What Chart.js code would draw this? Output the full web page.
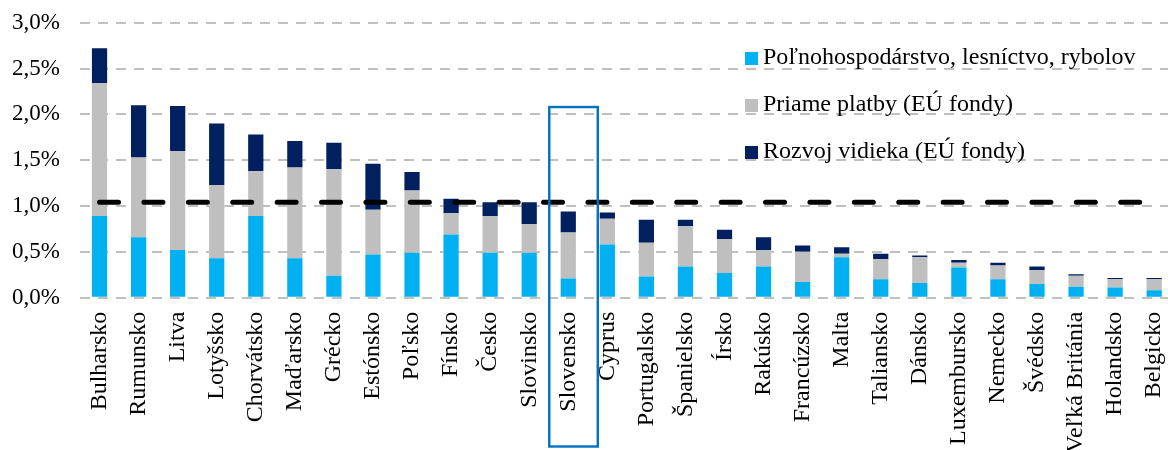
<!DOCTYPE html>
<html>
<head>
<meta charset="utf-8">
<script src="https://cdn.jsdelivr.net/npm/chart.js@4"></script>
<style>
  html, body { margin: 0; padding: 0; overflow: hidden; background: #fff; }
  #wrap { width: 1197px; height: 450px; }
</style>
</head>
<body>
<div id="wrap"><canvas id="agriChart"></canvas></div>
<script>
// Countries (sorted by total)
const countries = ['Bulharsko', 'Rumunsko', 'Litva', 'Lotyšsko', 'Chorvátsko', 'Maďarsko', 'Grécko', 'Estónsko',
    'Poľsko', 'Fínsko', 'Česko', 'Slovinsko', 'Slovensko', 'Cyprus', 'Portugalsko', 'Španielsko', 'Írsko',
    'Rakúsko', 'Francúzsko', 'Malta', 'Taliansko', 'Dánsko', 'Luxembursko', 'Nemecko', 'Švédsko',
    'Veľká Británia', 'Holandsko', 'Belgicko'];

// % of GDP
const agriForestFish = [0.89, 0.66, 0.52, 0.43, 0.89, 0.43, 0.24, 0.47, 0.49, 0.69, 0.49, 0.49, 0.21, 0.58,
    0.23, 0.34, 0.27, 0.34, 0.17, 0.44, 0.20, 0.16, 0.33, 0.20, 0.15, 0.12, 0.11, 0.08];
const directPayments = [1.45, 0.87, 1.08, 0.80, 0.49, 0.99, 1.16, 0.49, 0.68, 0.23, 0.40, 0.31, 0.50, 0.28,
    0.37, 0.44, 0.37, 0.18, 0.33, 0.04, 0.22, 0.28, 0.05, 0.15, 0.15, 0.12, 0.09, 0.12];
const ruralDevelopment = [0.38, 0.57, 0.49, 0.67, 0.40, 0.29, 0.29, 0.50, 0.20, 0.16, 0.15, 0.24, 0.23, 0.07,
    0.25, 0.07, 0.10, 0.14, 0.07, 0.07, 0.06, 0.02, 0.03, 0.03, 0.04, 0.015, 0.015, 0.015];
const euAverage = [1.04, 1.04, 1.04, 1.04, 1.04, 1.04, 1.04, 1.04, 1.04, 1.04, 1.04, 1.04, 1.04, 1.04,
    1.04, 1.04, 1.04, 1.04, 1.04, 1.04, 1.04, 1.04, 1.04, 1.04, 1.04, 1.04, 1.04, 1.04];

const yTickLabels = ['0,0%', '0,5%', '1,0%', '1,5%', '2,0%', '2,5%', '3,0%'];
const highlighted = 'Slovensko';

const serif = 'Liberation Serif';

// legend drawn inside the plot, vertical list
const insideLegend = {
    id: 'insideLegend',
    afterDraw(chart) {
        const ctx = chart.ctx;
        const bars = chart.data.datasets.filter(d => d.type === 'bar');
        ctx.save();
        ctx.font = '24px "' + serif + '"';
        ctx.textBaseline = 'middle';
        ctx.textAlign = 'left';
        bars.forEach((d, i) => {
            const y = 58 + i * 47;
            ctx.fillStyle = d.backgroundColor;
            ctx.fillRect(745, y - 6, 13, 13);
            ctx.fillStyle = '#000';
            ctx.fillText(d.label, 763, y);
        });
        ctx.restore();
    }
};

// frame around the highlighted country
const highlightBox = {
    id: 'highlightBox',
    afterDraw(chart) {
        const x = chart.scales.x.getPixelForValue(countries.indexOf(highlighted));
        const top = chart.scales.y.getPixelForValue(2.08);
        const ctx = chart.ctx;
        ctx.save();
        ctx.strokeStyle = '#0070C0';
        ctx.lineWidth = 2.4;
        ctx.strokeRect(x - 19, top, 48.5, chart.height - 3.5 - top);
        ctx.restore();
    }
};

const ctx = document.getElementById('agriChart').getContext('2d');
const agriChart = new Chart(ctx, {
    data: {
        labels: countries,
        datasets: [{
            type: 'line',
            label: 'Priemer EÚ',
            data: euAverage,
            borderColor: '#000',
            borderWidth: 5,
            borderDash: [19, 25.4],
            borderCapStyle: 'round',
            pointRadius: 0,
            fill: false,
            stack: 'avg',
            order: 0
        }, {
            type: 'bar',
            label: 'Poľnohospodárstvo, lesníctvo, rybolov',
            data: agriForestFish,
            backgroundColor: '#00B0F0',
            order: 1
        }, {
            type: 'bar',
            label: 'Priame platby (EÚ fondy)',
            data: directPayments,
            backgroundColor: '#BFBFBF',
            order: 1
        }, {
            type: 'bar',
            label: 'Rozvoj vidieka (EÚ fondy)',
            data: ruralDevelopment,
            backgroundColor: '#002060',
            order: 1
        }]
    },
    options: {
        responsive: true,
        maintainAspectRatio: false,
        animation: false,
        datasets: {
            bar: { categoryPercentage: 1, barPercentage: 0.39, stack: 'main' }
        },
        layout: { autoPadding: false, padding: { top: 22.7, right: 1, left: 0, bottom: 0 } },
        plugins: {
            legend: { display: false },
            tooltip: { enabled: false }
        },
        scales: {
            x: {
                stacked: true,
                grid: { display: false, drawTicks: false },
                border: { display: false },
                ticks: {
                    autoSkip: false,
                    minRotation: 90,
                    maxRotation: 90,
                    padding: 14,
                    color: '#000',
                    font: { family: serif, size: 24 }
                },
                afterFit(scale) { scale.height = 152.3; }
            },
            y: {
                stacked: true,
                min: 0,
                max: 3,
                grid: { color: '#C0C0C0', lineWidth: 2, drawTicks: false },
                border: { display: false, dash: [10, 8] },
                ticks: {
                    stepSize: 0.5,
                    padding: 20,
                    color: '#000',
                    font: { family: serif, size: 23 },
                    callback: (value, index) => yTickLabels[index]
                },
                afterFit(scale) {
                    scale.width = 80;
                    scale.paddingTop = 0;
                    scale.paddingBottom = 0;
                }
            }
        }
    },
    plugins: [insideLegend, highlightBox]
});
</script>
</body>
</html>
